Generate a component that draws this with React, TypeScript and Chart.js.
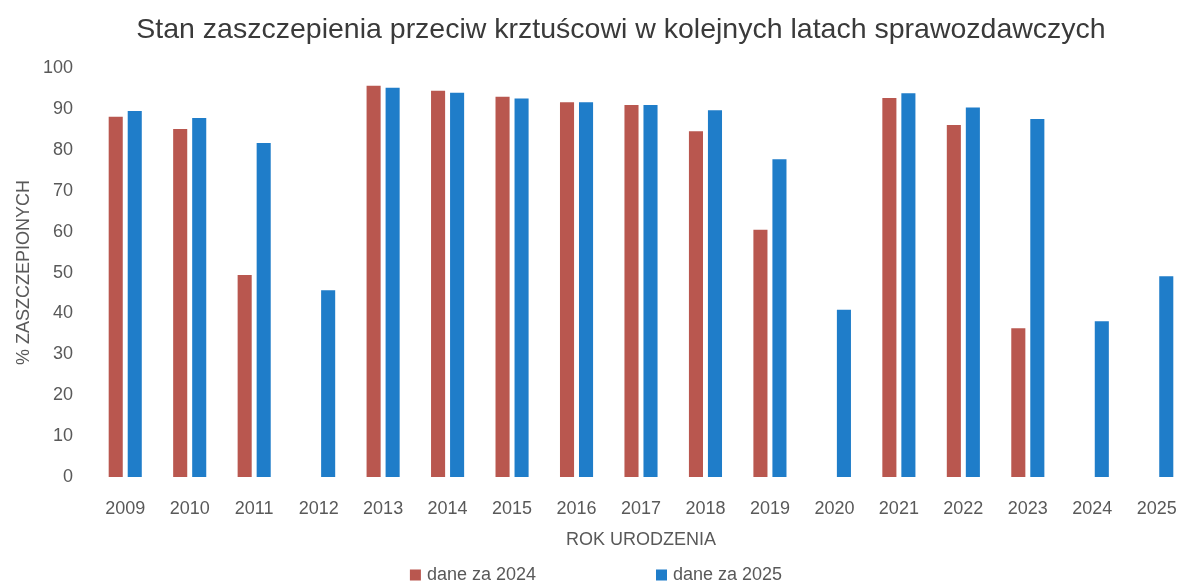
import React, { useEffect, useRef } from "react";
import { Chart, registerables } from "chart.js";

Chart.register(...registerables);

const chartTitle = "Stan zaszczepienia przeciw krztuścowi w kolejnych latach sprawozdawczych";
const xAxisTitle = "ROK URODZENIA";
const yAxisTitle = "% ZASZCZEPIONYCH";

const categories = [
  "2009", "2010", "2011", "2012", "2013", "2014", "2015", "2016", "2017",
  "2018", "2019", "2020", "2021", "2022", "2023", "2024", "2025",
];

const seriesLabels = ["dane za 2024", "dane za 2025"];

const values2024: (number | null)[] = [
  88.1, 85.1, 49.4, null, 95.7, 94.5, 93.0, 91.7, 91.0,
  84.6, 60.5, null, 92.7, 86.1, 36.4, null, null,
];

const values2025: (number | null)[] = [
  89.5, 87.8, 81.7, 45.7, 95.2, 94.0, 92.6, 91.7, 91.0,
  89.7, 77.7, 40.9, 93.9, 90.4, 87.6, 38.1, 49.1,
];

const yMin = 0;
const yMax = 100;
const yStep = 10;

const FONT = "'Liberation Sans', Arial, sans-serif";
const TEXT_COLOR = "#595959";
const TITLE_COLOR = "#3a3a3a";
const RED = "#B9574F";
const BLUE = "#1F7DC9";

const legendPlugin = {
  id: "customBottomLegend",
  afterDraw(chart: any) {
    const ctx = chart.ctx as CanvasRenderingContext2D;
    ctx.save();
    ctx.font = `18px ${FONT}`;
    ctx.textBaseline = "middle";
    ctx.textAlign = "left";
    const box = 11;
    const boxGap = 6;
    const itemGap = 120;
    const items = chart.data.datasets.map((ds: any) => ({
      text: String(ds.label),
      color: ds.backgroundColor,
      w: box + boxGap + ctx.measureText(String(ds.label)).width,
    }));
    const total =
      items.reduce((s: number, it: any) => s + it.w, 0) + itemGap * (items.length - 1);
    let x = 596 - total / 2;
    const y = 575;
    for (const it of items) {
      ctx.fillStyle = it.color;
      ctx.fillRect(x, y - box / 2, box, box);
      ctx.fillStyle = TEXT_COLOR;
      ctx.fillText(it.text, x + box + boxGap, y);
      x += it.w + itemGap;
    }
    ctx.restore();
  },
};

export default function App() {
  const canvasRef = useRef<HTMLCanvasElement | null>(null);

  useEffect(() => {
    if (!canvasRef.current) return;
    const chart = new Chart(canvasRef.current, {
      type: "bar",
      data: {
        labels: categories,
        datasets: [
          {
            label: seriesLabels[0],
            data: values2024,
            backgroundColor: RED,
            categoryPercentage: 0.59,
            barPercentage: 0.74,
          },
          {
            label: seriesLabels[1],
            data: values2025,
            backgroundColor: BLUE,
            categoryPercentage: 0.59,
            barPercentage: 0.74,
          },
        ],
      },
      options: {
        animation: false,
        responsive: true,
        maintainAspectRatio: false,
        layout: { padding: { left: 0, right: 0, top: 0, bottom: 25 } },
        plugins: {
          legend: { display: false },
          tooltip: { enabled: false },
          title: {
            display: true,
            text: chartTitle,
            color: TITLE_COLOR,
            font: { family: FONT, size: 28.5, weight: "normal" },
            padding: { top: 13, bottom: 21 },
          },
        },
        scales: {
          x: {
            grid: { display: false },
            border: { display: false },
            ticks: {
              color: TEXT_COLOR,
              font: { family: FONT, size: 18 },
              padding: 13,
              maxRotation: 0,
              autoSkip: false,
            },
            title: {
              display: true,
              text: xAxisTitle,
              color: TEXT_COLOR,
              font: { family: FONT, size: 18 },
              padding: { top: 0, bottom: 6 },
            },
            afterFit: (s: any) => {
              s.height = 80;
            },
          },
          y: {
            min: yMin,
            max: yMax,
            grid: { display: false },
            border: { display: false },
            ticks: {
              stepSize: yStep,
              color: TEXT_COLOR,
              font: { family: FONT, size: 18 },
              padding: 12,
            },
            title: {
              display: true,
              text: yAxisTitle,
              color: TEXT_COLOR,
              font: { family: FONT, size: 18 },
              padding: { top: 13, bottom: 0 },
            },
            afterFit: (s: any) => {
              s.width = 93;
            },
          },
          spacer: {
            type: "linear",
            position: "right",
            display: true,
            grid: { display: false },
            border: { display: false },
            ticks: { display: false },
            afterFit: (s: any) => {
              s.width = 53;
            },
          },
        },
      },
      plugins: [legendPlugin],
    });
    return () => chart.destroy();
  }, []);

  return (
    <div
      style={{
        position: "fixed",
        left: 0,
        top: 0,
        width: 1182,
        height: 582,
        overflow: "hidden",
        background: "#ffffff",
      }}
    >
      <div style={{ position: "relative", width: 1242, height: 582 }}>
        <canvas ref={canvasRef} />
      </div>
    </div>
  );
}
